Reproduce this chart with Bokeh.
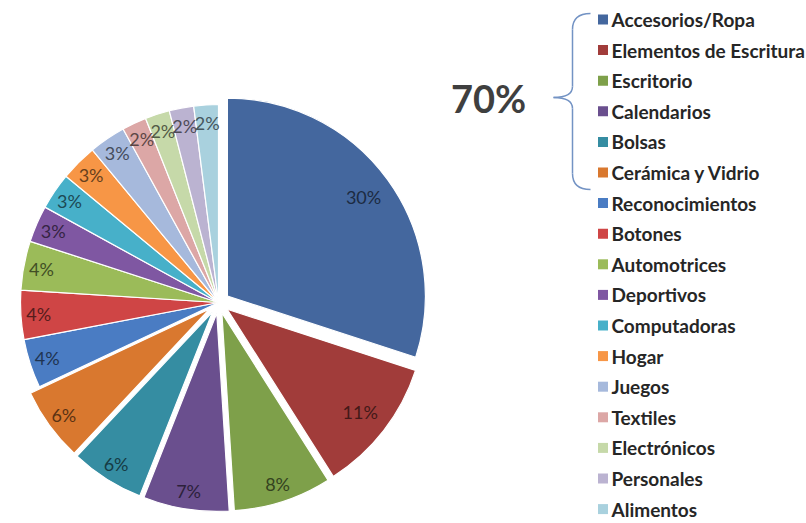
import math
from bokeh.plotting import figure
from bokeh.models import Range1d, ColumnDataSource
from bokeh.embed import file_html
from bokeh.resources import INLINE
from bokeh.core.properties import value

# ---------------- data ----------------
categories = ["Accesorios/Ropa", "Elementos de Escritura", "Escritorio", "Calendarios",
              "Bolsas", "Cerámica y Vidrio", "Reconocimientos", "Botones", "Automotrices",
              "Deportivos", "Computadoras", "Hogar", "Juegos", "Textiles", "Electrónicos",
              "Personales", "Alimentos"]
percent = [30, 11, 8, 7, 6, 6, 4, 4, 4, 3, 3, 3, 3, 2, 2, 2, 2]
exploded = [True, True, True, True, True, True,
            False, False, False, False, False, False, False, False, False, False, False]
bracket_label = "70%"
colors = ["#44679E", "#A13C3A", "#7EA04A", "#6A4F8E", "#358DA2", "#D9782F",
          "#4A7CC3", "#CF4545", "#9BBB59", "#7F57A2", "#47B0C9", "#F79646",
          "#A6B9DC", "#DCA7A6", "#C6D9A9", "#BBB3D1", "#A9D1DE"]

# ---------------- layout ----------------
W, H = 806, 523
p = figure(width=W, height=H, x_range=Range1d(0, W), y_range=Range1d(0, H),
           output_backend="svg", toolbar_location=None, min_border=0)
p.axis.visible = False
p.grid.visible = False
p.outline_line_color = None
p.background_fill_color = "white"
p.border_fill_color = "white"

cx, cy = 218, H - 302
R = 198
OFF = 11

def darker(hexc, k=0.42):
    r, g, b = int(hexc[1:3], 16), int(hexc[3:5], 16), int(hexc[5:7], 16)
    return "#%02x%02x%02x" % (int(r * k), int(g * k), int(b * k))

total = float(sum(percent))
cum = 0.0
wx, wy, st, en = [], [], [], []
lx, ly, lt, lc = [], [], [], []
for i, (v, ex) in enumerate(zip(percent, exploded)):
    a0 = cum / total * 2 * math.pi
    a1 = (cum + v) / total * 2 * math.pi
    cum += v
    mid = (a0 + a1) / 2
    d = OFF if ex else 0
    x = cx + d * math.sin(mid)
    y = cy + d * math.cos(mid)
    wx.append(x); wy.append(y)
    st.append(math.pi / 2 - a1); en.append(math.pi / 2 - a0)
    f = 0.85 if v >= 10 else 0.91
    lx.append(x + f * R * math.sin(mid))
    ly.append(y + f * R * math.cos(mid))
    lt.append("%d%%" % v)
    lc.append(darker(colors[i]))

src = ColumnDataSource(dict(x=wx, y=wy, s=st, e=en, c=colors))
p.wedge(x="x", y="y", radius=R, start_angle="s", end_angle="e", fill_color="c",
        line_color="white", line_width=1.2, source=src)

lsrc = ColumnDataSource(dict(x=lx, y=ly, t=lt, c=lc))
p.text(x="x", y="y", text="t", text_color="c", text_font=value("Lato"),
       text_font_size="18px", text_align="center", text_baseline="middle", source=lsrc)

# ---------------- legend ----------------
LEG_TOP = 19
LEG_STEP = 30.6
leg_y = [H - (LEG_TOP + i * LEG_STEP) for i in range(len(categories))]
p.scatter(x=[602.5] * len(categories), y=leg_y, marker="square", size=10,
          fill_color=colors, line_color=None)
p.text(x=[611] * len(categories), y=leg_y, text=categories, text_color="#262626",
       text_font=value("Lato"), text_font_style="bold", text_font_size="19px",
       text_align="left", text_baseline="middle")

# ---------------- bracket + 70% ----------------
bc = "#7393C4"
p.quadratic(x0=[590], y0=[H - 13], x1=[572], y1=[H - 29], cx=[572], cy=[H - 13],
            line_color=bc, line_width=1.5)
p.line(x=[572, 572], y=[H - 29, H - 86], line_color=bc, line_width=1.5)
p.quadratic(x0=[572], y0=[H - 86], x1=[553], y1=[H - 97], cx=[572], cy=[H - 97],
            line_color=bc, line_width=1.5)
p.quadratic(x0=[553], y0=[H - 97], x1=[572], y1=[H - 108], cx=[572], cy=[H - 97],
            line_color=bc, line_width=1.5)
p.line(x=[572, 572], y=[H - 108, H - 173], line_color=bc, line_width=1.5)
p.quadratic(x0=[572], y0=[H - 173], x1=[590], y1=[H - 189], cx=[572], cy=[H - 189],
            line_color=bc, line_width=1.5)

p.text(x=[488], y=[H - 97], text=[bracket_label], text_color="#3F3F3F",
       text_font=value("Lato"), text_font_style="bold", text_font_size="38px",
       text_align="center", text_baseline="middle")

open("out.html", "w").write(file_html(p, INLINE))
